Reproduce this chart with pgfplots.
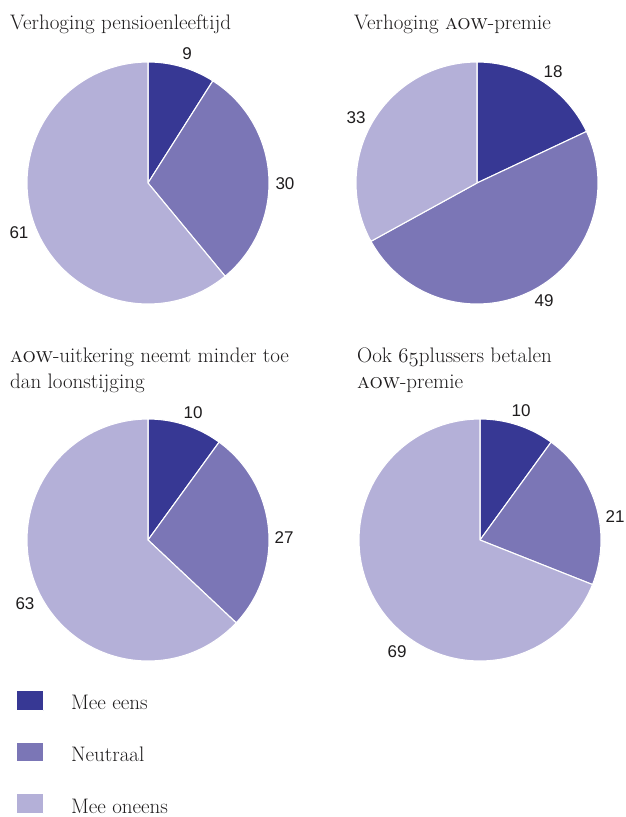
\documentclass[border=0pt]{standalone}
\usepackage{pgfplots}
\pgfplotsset{compat=1.18}
\usepackage{fontspec}
\newfontfamily\lab{Liberation Sans}
\definecolor{c1}{HTML}{373894}
\definecolor{c2}{HTML}{7B76B6}
\definecolor{c3}{HTML}{B4B0D8}
\definecolor{txt}{HTML}{1E1C1D}

\pgfplotsset{pieaxis/.style={hide axis, xmin=-1,xmax=1,ymin=-1,ymax=1,
  width=242pt,height=242pt, scale only axis, anchor=center, clip=false}}

% one wedge: colour, start (percent), end (percent); clockwise from 12 o'clock
\newcommand\pwedge[3]{%
  \addplot[fill=#1, draw=white, line width=1.1pt, line join=round,
    domain=(#2)*3.6:(#3)*3.6, samples=120, variable=\t]
    ({sin(t)},{cos(t)}) -- (axis cs:0,0) -- cycle;}
% pie from three shares: mee eens, neutraal, mee oneens
\newcommand\pie[3]{%
  \pwedge{c1}{0}{#1}
  \pwedge{c2}{#1}{#1+#2}
  \pwedge{c3}{#1+#2}{#1+#2+#3}}
\newcommand\lbl[3]{\node[font=\lab\fontsize{17}{17}\selectfont, text=txt, inner sep=0pt]
  at ([xshift=#1pt,yshift=#2pt]axis cs:0,0) {#3};}
\tikzset{ttl/.style={anchor=base west, inner sep=0pt, text=txt, font=\fontsize{21}{26}\selectfont}}

\begin{document}
\begin{tikzpicture}
\path[use as bounding box] (0,0) rectangle (625pt,-817pt);

\node[ttl] at (10pt,-29pt) {Verhoging pensioenleeftijd};
\node[ttl] at (354pt,-29pt) {Verhoging \textsc{aow}-premie};
\node[ttl] at (10pt,-362pt) {\textsc{aow}-uitkering neemt minder toe};
\node[ttl] at (10pt,-388pt) {dan loonstijging};
\node[ttl] at (357pt,-362pt) {Ook \legacyoldstylenums{65}plussers betalen};
\node[ttl] at (357pt,-388pt) {\textsc{aow}-premie};

\begin{axis}[pieaxis, at={(148pt,-183pt)}]
\pie{9}{30}{61}
\lbl{39}{129}{9}
\lbl{137}{-1}{30}
\lbl{-129}{-50}{61}
\end{axis}

\begin{axis}[pieaxis, at={(477pt,-183pt)}]
\pie{18}{49}{33}
\lbl{76}{111}{18}
\lbl{67}{-118}{49}
\lbl{-121}{65}{33}
\end{axis}

\begin{axis}[pieaxis, at={(148pt,-540pt)},
  legend image code/.code={\fill[#1] (0pt,-7pt) rectangle (27pt,13pt);},
  legend cell align=left,
  legend style={at={(axis description cs:-0.04545,-0.1198)}, anchor=north west,
    draw=none, fill=none, inner sep=0pt, outer sep=0pt, row sep=30pt,
    font=\fontsize{21}{24}\selectfont, text=txt,
    nodes={inner sep=0pt, outer sep=0pt},
    /tikz/every odd column/.append style={column sep=27pt}}]
\pie{10}{27}{63}
\lbl{45}{127}{10}
\lbl{136}{2}{27}
\lbl{-123}{-64}{63}
\addlegendimage{fill=c1}
\addlegendentry{Mee eens}
\addlegendimage{fill=c2}
\addlegendentry{Neutraal}
\addlegendimage{fill=c3}
\addlegendentry{Mee oneens}
\end{axis}

\begin{axis}[pieaxis, at={(480pt,-540pt)}]
\pie{10}{21}{69}
\lbl{41}{129}{10}
\lbl{135}{23}{21}
\lbl{-83}{-112}{69}
\end{axis}
\end{tikzpicture}
\end{document}
